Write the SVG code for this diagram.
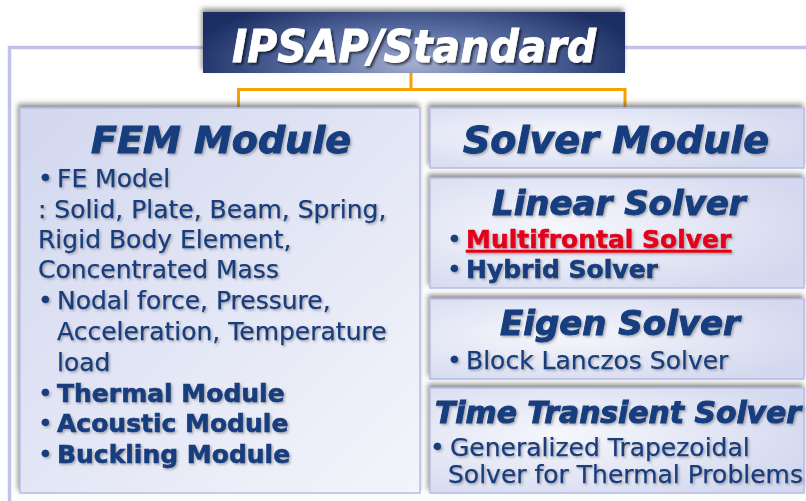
<svg xmlns="http://www.w3.org/2000/svg" width="806" height="501" viewBox="0 0 806 501">
<defs>
<radialGradient id="titleGrad" cx="50%" cy="85%" r="55%" fx="50%" fy="85%" gradientTransform="translate(0.5,0.85) scale(1,2.2) translate(-0.5,-0.85)">
<stop offset="0" stop-color="#a4aed0"/>
<stop offset="0.45" stop-color="#5a6fa3"/>
<stop offset="1" stop-color="#1b2d62"/>
</radialGradient>
<linearGradient id="femGrad" x1="0" y1="0" x2="1" y2="1">
<stop offset="0" stop-color="#d2d7ef"/>
<stop offset="1" stop-color="#f4f5fb"/>
</linearGradient>
<radialGradient id="boxGrad" cx="35%" cy="45%" r="70%">
<stop offset="0" stop-color="#f6f7fc"/>
<stop offset="1" stop-color="#d4d9ef"/>
</radialGradient>
<filter id="boxShadow" x="-10%" y="-20%" width="120%" height="140%">
<feDropShadow dx="-1.5" dy="-3.5" stdDeviation="2.5" flood-color="#555" flood-opacity="0.65"/>
</filter>
<filter id="txtShadow" x="-5%" y="-20%" width="110%" height="140%">
<feDropShadow dx="1.5" dy="1.5" stdDeviation="0.8" flood-color="#555" flood-opacity="0.45"/>
</filter>
<filter id="titleTxtShadow" x="-5%" y="-20%" width="110%" height="140%">
<feDropShadow dx="2" dy="2" stdDeviation="1" flood-color="#000" flood-opacity="0.6"/>
</filter>
</defs>
<style>
.frame{fill:none;stroke:#bfc3ea;stroke-width:3.5}
.conn{fill:none;stroke:#f5a200;stroke-width:3}
.box{stroke:#b5bde6;stroke-width:1.5}
.txt{font-family:"DejaVu Sans",Verdana,sans-serif;fill:#173d7e}
.head{font-weight:bold;font-style:italic;stroke:#173d7e;stroke-width:1}
.body{font-size:25px;stroke:#173d7e;stroke-width:0.25}
.bold{font-weight:bold;stroke-width:0.6}
.red{fill:#e4001c;stroke:#e4001c}
</style>
<rect width="806" height="501" fill="#ffffff"/>
<path class="frame" d="M9.5 501 V47.5 H203 M625 47.5 H806"/>
<g id="connectors">
<path class="conn" d="M411 73 V89.5 M238.5 108 V89.5 H625 V108"/>
</g>
<g id="title">
<rect x="203" y="12" width="422" height="61" fill="url(#titleGrad)" filter="url(#boxShadow)"/>
<text x="232" y="62" font-family="DejaVu Sans, Verdana, sans-serif" font-size="44" font-weight="bold" font-style="italic" fill="#ffffff" stroke="#ffffff" stroke-width="0.8" textLength="364" lengthAdjust="spacingAndGlyphs" filter="url(#titleTxtShadow)">IPSAP/Standard</text>
</g>
<g id="fem-module">
<rect class="box" x="20" y="108" width="400" height="385" fill="url(#femGrad)" filter="url(#boxShadow)"/>
<g class="txt" filter="url(#txtShadow)">
<text class="head" x="91" y="153" font-size="38">FEM Module</text>
<text class="body" y="187"><tspan x="38">•</tspan><tspan x="57">FE Model</tspan></text>
<text class="body" x="38" y="218">: Solid, Plate, Beam, Spring,</text>
<text class="body" x="38" y="248">Rigid Body Element,</text>
<text class="body" x="38" y="278">Concentrated Mass</text>
<text class="body" y="309"><tspan x="38">•</tspan><tspan x="57">Nodal force, Pressure,</tspan></text>
<text class="body" x="57" y="340">Acceleration, Temperature</text>
<text class="body" x="57" y="371">load</text>
<text class="body" y="402"><tspan x="38">•</tspan><tspan x="57" class="bold">Thermal Module</tspan></text>
<text class="body" y="432"><tspan x="38">•</tspan><tspan x="57" class="bold">Acoustic Module</tspan></text>
<text class="body" y="463"><tspan x="38">•</tspan><tspan x="57" class="bold">Buckling Module</tspan></text>
</g>
</g>
<g id="solver-module">
<rect class="box" x="430" y="108" width="374" height="60" fill="url(#boxGrad)" filter="url(#boxShadow)"/>
<text class="txt head" x="463" y="153" font-size="38" filter="url(#txtShadow)">Solver Module</text>
</g>
<g id="linear-solver">
<rect class="box" x="430" y="178" width="374" height="110" fill="url(#boxGrad)" filter="url(#boxShadow)"/>
<g class="txt" filter="url(#txtShadow)">
<text class="head" x="492" y="215" font-size="34">Linear Solver</text>
<text class="body" y="248"><tspan x="447">•</tspan><tspan x="466" class="bold red" text-decoration="underline">Multifrontal Solver</tspan></text>
<text class="body" y="278"><tspan x="447">•</tspan><tspan x="466" class="bold">Hybrid Solver</tspan></text>
</g>
</g>
<g id="eigen-solver">
<rect class="box" x="430" y="299" width="374" height="80" fill="url(#boxGrad)" filter="url(#boxShadow)"/>
<g class="txt" filter="url(#txtShadow)">
<text class="head" x="500" y="335" font-size="34">Eigen Solver</text>
<text class="body" y="369"><tspan x="447">•</tspan><tspan x="466">Block Lanczos Solver</tspan></text>
</g>
</g>
<g id="time-transient-solver">
<rect class="box" x="430" y="388" width="374" height="105" fill="url(#boxGrad)" filter="url(#boxShadow)"/>
<g class="txt" filter="url(#txtShadow)">
<text class="head" x="435" y="423" font-size="30" textLength="366" lengthAdjust="spacingAndGlyphs">Time Transient Solver</text>
<text class="body" y="456"><tspan x="430">•</tspan><tspan x="450">Generalized Trapezoidal</tspan></text>
<text class="body" x="448" y="483">Solver for Thermal Problems</text>
</g>
</g>
</svg>
